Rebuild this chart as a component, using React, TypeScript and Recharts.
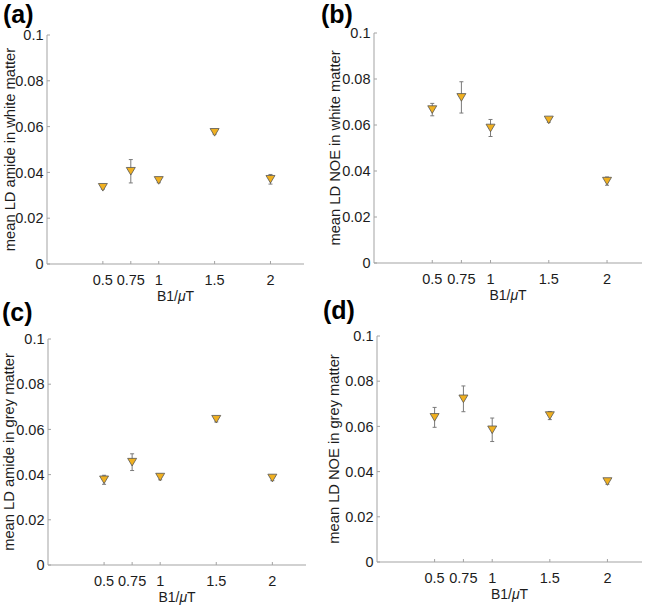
import React from "react";
import { ErrorBar, Label, Scatter, ScatterChart, XAxis, YAxis } from "recharts";

// B1 amplitude levels (µT) and axis ticks
const b1Levels = [0.5, 0.75, 1, 1.5, 2];
const b1Ticks = [0.5, 0.75, 1, 1.5, 2];
const yTicks = [0, 0.02, 0.04, 0.06, 0.08, 0.1];

// (a) amide, white matter
const amideWhiteMean = [0.0335, 0.0405, 0.0365, 0.0575, 0.037];
const amideWhiteErr = [0.0008, 0.0051, 0.001, 0.0008, 0.0021];
// (b) NOE, white matter
const noeWhiteMean = [0.0667, 0.072, 0.0587, 0.0622, 0.0356];
const noeWhiteErr = [0.0027, 0.0068, 0.0037, 0.001, 0.0018];
// (c) amide, grey matter
const amideGreyMean = [0.0377, 0.0455, 0.0389, 0.0645, 0.0385];
const amideGreyErr = [0.002, 0.0037, 0.0012, 0.0012, 0.0012];
// (d) NOE, grey matter
const noeGreyMean = [0.064, 0.0722, 0.0585, 0.0648, 0.0356];
const noeGreyErr = [0.0044, 0.0057, 0.0052, 0.0018, 0.0012];

const AXIS_W = 58;
const TOP = 28;
const RIGHT = 6;
const BOTTOM = 44;
const FONT = '"Liberation Sans", Arial, Helvetica, sans-serif';
const BOX = "#a3a3a3";
const TEXT = "#1c1c1c";

const Triangle = (props: any) => {
  const { cx, cy } = props;
  if (cx == null || cy == null) return null;
  return (
    <polygon
      points={`${cx - 4.5},${cy - 3.8} ${cx + 4.5},${cy - 3.8} ${cx},${cy + 3.8}`}
      fill="#F0B020"
      stroke="#555"
      strokeWidth={0.8}
    />
  );
};

type PanelProps = {
  letter: string;
  letterAt: [number, number];
  yLabel: string;
  yLabelX: number; // page x of the rotated label's baseline
  means: number[];
  errs: number[];
  box: { x: number; y: number; w: number; h: number };
};

const Panel = ({ letter, letterAt, yLabel, yLabelX, means, errs, box }: PanelProps) => {
  const data = b1Levels.map((b1, i) => ({ b1, mean: means[i], err: errs[i] }));
  const chartLeft = box.x - AXIS_W;
  const labelX = yLabelX - chartLeft;

  const xLabel = (props: any) => {
    const { x, y, width } = props.viewBox;
    return (
      <text x={x + width / 2} y={y + 37} textAnchor="middle" fontSize={14} fill={TEXT}>
        B1/<tspan fontStyle="italic">μ</tspan>T
      </text>
    );
  };

  const yLab = (props: any) => {
    const { y, height } = props.viewBox;
    const cy = y + height / 2;
    return (
      <text
        x={labelX}
        y={cy}
        transform={`rotate(-90 ${labelX} ${cy})`}
        textAnchor="middle"
        fontSize={14.7}
        fill={TEXT}
      >
        {yLabel}
      </text>
    );
  };

  return (
    <>
      <div
        style={{
          position: "absolute",
          left: letterAt[0],
          top: letterAt[1],
          fontFamily: FONT,
          fontWeight: "bold",
          fontSize: 25,
          color: "#000",
        }}
      >
        {letter}
      </div>
      <div style={{ position: "absolute", left: chartLeft, top: box.y - TOP }}>
        <ScatterChart
          width={AXIS_W + box.w + RIGHT}
          height={TOP + box.h + BOTTOM}
          margin={{ top: TOP, right: RIGHT, bottom: 0, left: 0 }}
          data={data}
        >
          <XAxis
            dataKey="b1"
            type="number"
            domain={[0, 2.3]}
            ticks={b1Ticks}
            interval={0}
            height={BOTTOM}
            tickSize={-3}
            tickMargin={14}
            stroke={BOX}
            tick={{ fill: TEXT, fontSize: 14.5 }}
            allowDataOverflow
          >
            <Label content={xLabel} />
          </XAxis>
          <XAxis
            xAxisId="top"
            orientation="top"
            type="number"
            domain={[0, 2.3]}
            ticks={b1Ticks}
            height={0}
            tick={false}
            tickSize={-3}
            stroke={BOX}
            allowDataOverflow
          />
          <YAxis
            dataKey="mean"
            type="number"
            domain={[0, 0.1]}
            ticks={yTicks}
            interval={0}
            width={AXIS_W}
            tickSize={-3}
            tickMargin={6.5}
            stroke={BOX}
            tick={{ fill: TEXT, fontSize: 14.5 }}
            allowDataOverflow
          >
            <Label content={yLab} />
          </YAxis>
          <YAxis
            yAxisId="right"
            orientation="right"
            type="number"
            domain={[0, 0.1]}
            ticks={yTicks}
            width={0}
            tick={false}
            tickSize={-3}
            stroke={BOX}
            allowDataOverflow
          />
          <Scatter dataKey="mean" shape={Triangle} isAnimationActive={false}>
            <ErrorBar dataKey="err" direction="y" width={2} stroke="#7a7a7a" strokeWidth={1} />
          </Scatter>
        </ScatterChart>
      </div>
    </>
  );
};

export default function App() {
  return (
    <div
      style={{
        position: "absolute",
        left: 0,
        top: 0,
        width: 645,
        height: 606,
        background: "#fff",
        overflow: "hidden",
        fontFamily: FONT,
      }}
    >
      <Panel
        letter="(a)"
        letterAt={[3, 0]}
        yLabel="mean LD amide in white matter"
        yLabelX={15}
        means={amideWhiteMean}
        errs={amideWhiteErr}
        box={{ x: 47, y: 35, w: 257, h: 229 }}
      />
      <Panel
        letter="(b)"
        letterAt={[321, 0]}
        yLabel="mean LD NOE in white matter"
        yLabelX={340}
        means={noeWhiteMean}
        errs={noeWhiteErr}
        box={{ x: 374, y: 33, w: 268, h: 230 }}
      />
      <Panel
        letter="(c)"
        letterAt={[2, 298]}
        yLabel="mean LD amide in grey matter"
        yLabelX={14}
        means={amideGreyMean}
        errs={amideGreyErr}
        box={{ x: 48, y: 339, w: 258, h: 226 }}
      />
      <Panel
        letter="(d)"
        letterAt={[323, 296]}
        yLabel="mean LD NOE in grey matter"
        yLabelX={339}
        means={noeGreyMean}
        errs={noeGreyErr}
        box={{ x: 377, y: 336, w: 265, h: 226 }}
      />
    </div>
  );
}
